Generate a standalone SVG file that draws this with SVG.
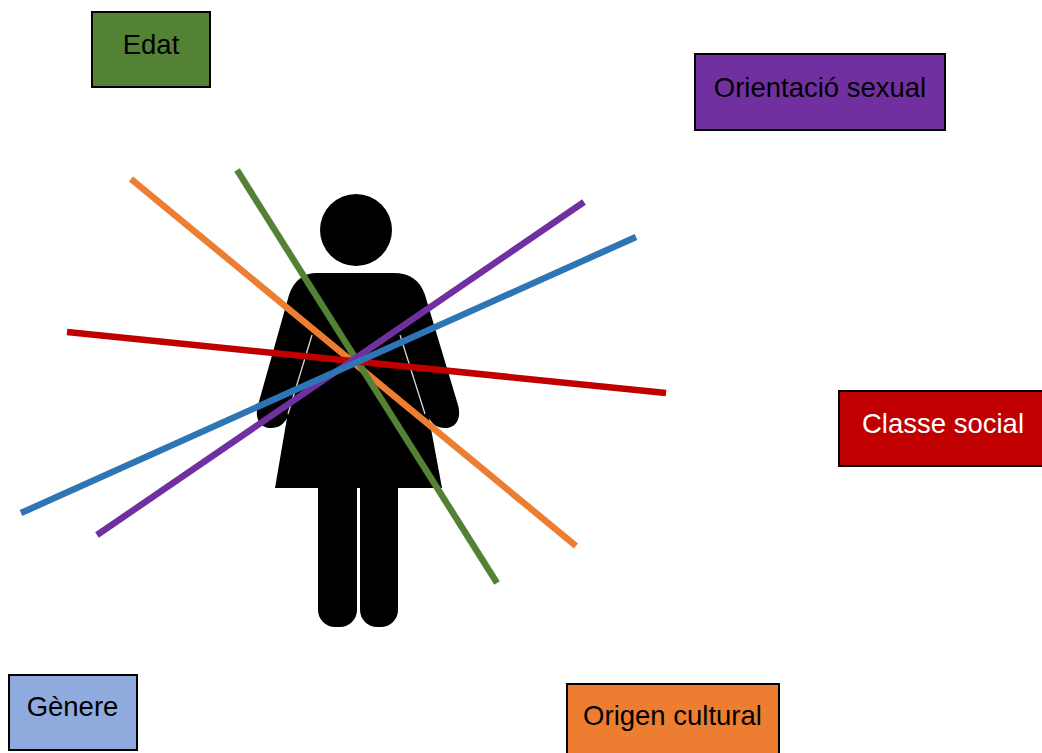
<svg xmlns="http://www.w3.org/2000/svg" width="1042" height="753" viewBox="0 0 1042 753">
<style>
.box{stroke:#000;stroke-width:2}
.lbl{font-family:"Liberation Sans",Arial,sans-serif;font-size:27.5px;text-anchor:middle;fill:#000}
.ln{stroke-width:6.5;fill:none}
.fig{fill:#000}
.gap{stroke:#d8d8d8;stroke-width:1.3}
</style>
<rect width="1042" height="753" fill="#fff"/>
<g id="figure">
<circle class="fig" cx="356" cy="230" r="36"/>
<rect class="fig" x="318" y="470" width="39" height="157" rx="17"/>
<rect class="fig" x="360" y="470" width="38" height="157" rx="17"/>
<path class="fig" d="M317,273 L393,273 C410,273 420,280 425,295 L458,405 C462,420 455,428 445,428 C437,428 432,424 429,418 L442,488 L275,488 L287,418 C284,424 279,428 271,428 C261,428 254,420 258,405 L289,295 C294,280 304,273 317,273 Z"/>
<line class="gap" x1="312" y1="335" x2="288" y2="414"/>
<line class="gap" x1="400" y1="335" x2="425" y2="414"/>
</g>
<g id="connectors">
<line class="ln" x1="131" y1="179" x2="576" y2="546" stroke="#ED7D31"/>
<line class="ln" x1="237" y1="170" x2="497" y2="583" stroke="#548235"/>
<line class="ln" x1="67" y1="332" x2="666" y2="393" stroke="#C00000"/>
<line class="ln" x1="584" y1="202" x2="97" y2="535" stroke="#7030A0"/>
<line class="ln" x1="636" y1="237" x2="21" y2="513" stroke="#2E75B6"/>
</g>
<g id="edat">
<rect class="box" x="92" y="12" width="118" height="75" fill="#548235"/>
<text class="lbl" x="151" y="54">Edat</text>
</g>
<g id="orientacio">
<rect class="box" x="695" y="54" width="250" height="76" fill="#7030A0"/>
<text class="lbl" x="820" y="97">Orientació sexual</text>
</g>
<g id="classe">
<rect class="box" x="839" y="391" width="210" height="75" fill="#C00000"/>
<text class="lbl" x="943" y="433" style="fill:#fff">Classe social</text>
</g>
<g id="genere">
<rect class="box" x="9" y="675" width="128" height="75" fill="#8FAADC"/>
<text class="lbl" x="72.5" y="716">Gènere</text>
</g>
<g id="origen">
<rect class="box" x="567" y="684" width="212" height="76" fill="#ED7D31"/>
<text class="lbl" x="672.5" y="725">Origen cultural</text>
</g>
</svg>
